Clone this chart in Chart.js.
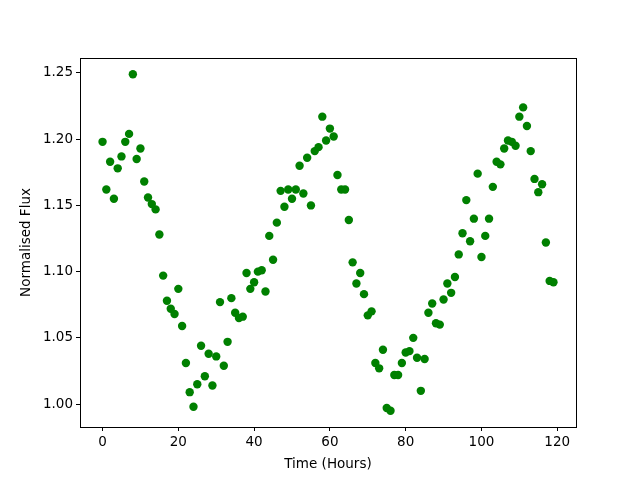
<!DOCTYPE html>
<html>
<head>
<meta charset="utf-8">
<script src="https://cdn.jsdelivr.net/npm/chart.js@4/dist/chart.umd.min.js"></script>
<style>
  html, body { margin: 0; padding: 0; background: #fff; }
  #wrap { width: 640px; height: 480px; }
</style>
</head>
<body>
<div id="wrap"><canvas id="fluxChart" width="640" height="480"></canvas></div>
<script>
// ===== Data =====
const hours = [];
for (let h = 0; h < 120; h++) hours.push(h);

const flux = [
  1.198, 1.162, 1.183, 1.155, 1.178, 1.187, 1.198, 1.204, 1.249, 1.185,
  1.193, 1.168, 1.156, 1.151, 1.147, 1.128, 1.097, 1.078, 1.072, 1.068,
  1.087, 1.059, 1.031, 1.009, 0.998, 1.015, 1.044, 1.021, 1.038, 1.014,
  1.036, 1.077, 1.029, 1.047, 1.080, 1.069, 1.065, 1.066, 1.099, 1.087,
  1.092, 1.100, 1.101, 1.085, 1.127, 1.109, 1.137, 1.161, 1.149, 1.162,
  1.155, 1.162, 1.180, 1.159, 1.186, 1.150, 1.191, 1.194, 1.217, 1.199,
  1.208, 1.202, 1.173, 1.162, 1.162, 1.139, 1.107, 1.091, 1.099, 1.083,
  1.067, 1.070, 1.031, 1.027, 1.041, 0.997, 0.995, 1.022, 1.022, 1.031,
  1.039, 1.040, 1.050, 1.035, 1.010, 1.034, 1.069, 1.076, 1.061, 1.060,
  1.079, 1.091, 1.084, 1.096, 1.113, 1.129, 1.154, 1.123, 1.140, 1.174,
  1.111, 1.127, 1.140, 1.164, 1.183, 1.181, 1.193, 1.199, 1.198, 1.195,
  1.217, 1.224, 1.210, 1.191, 1.170, 1.160, 1.166, 1.122, 1.093, 1.092
];

const xTicks = [0, 20, 40, 60, 80, 100, 120];
const yTicks = [1.00, 1.05, 1.10, 1.15, 1.20, 1.25];

const FONT = { family: "'DejaVu Sans', sans-serif", size: 13.5 };

// draws the full box round the plot like matplotlib spines
const frameBox = {
  id: 'frameBox',
  afterDraw(chart) {
    const { ctx, chartArea: a } = chart;
    ctx.save();
    ctx.strokeStyle = '#000';
    ctx.lineWidth = 1;
    ctx.strokeRect(Math.round(a.left) + 0.5, Math.round(a.top) + 0.5,
                   Math.round(a.right - a.left), Math.round(a.bottom - a.top));
    ctx.restore();
  }
};

new Chart(document.getElementById('fluxChart').getContext('2d'), {
  type: 'scatter',
  data: {
    datasets: [{
      data: hours.map((h, i) => ({ x: h, y: flux[i] })),
      backgroundColor: '#008000',
      borderColor: '#008000',
      borderWidth: 0,
      pointRadius: 4.2,
      pointHoverRadius: 4.2
    }]
  },
  options: {
    responsive: false,
    devicePixelRatio: 1,
    animation: false,
    layout: { padding: { left: 0, right: 64, top: 58, bottom: 0 } },
    plugins: { legend: { display: false }, tooltip: { enabled: false } },
    scales: {
      x: {
        type: 'linear',
        min: -5.95,
        max: 124.95,
        afterBuildTicks: (s) => { s.ticks = xTicks.map(v => ({ value: v })); },
        afterFit: (s) => { s.height = 53; },
        grid: { drawOnChartArea: false, drawTicks: true, tickLength: 4, color: '#000' },
        border: { display: false },
        ticks: { color: '#000', font: FONT, padding: 3, maxRotation: 0, autoSkip: false },
        title: { display: true, text: 'Time (Hours)', color: '#000', font: FONT, padding: { top: 2, bottom: 7 } }
      },
      y: {
        type: 'linear',
        min: 0.9827,
        max: 1.2613,
        afterBuildTicks: (s) => { s.ticks = yTicks.map(v => ({ value: v })); },
        afterFit: (s) => { s.width = 80; },
        grid: { drawOnChartArea: false, drawTicks: true, tickLength: 4, color: '#000' },
        border: { display: false },
        ticks: { color: '#000', font: FONT, padding: 3, autoSkip: false, callback: (v) => Number(v).toFixed(2) },
        title: { display: true, text: 'Normalised Flux', color: '#000', font: FONT, padding: { top: 18, bottom: 4 } }
      }
    }
  },
  plugins: [frameBox]
});
</script>
</body>
</html>
